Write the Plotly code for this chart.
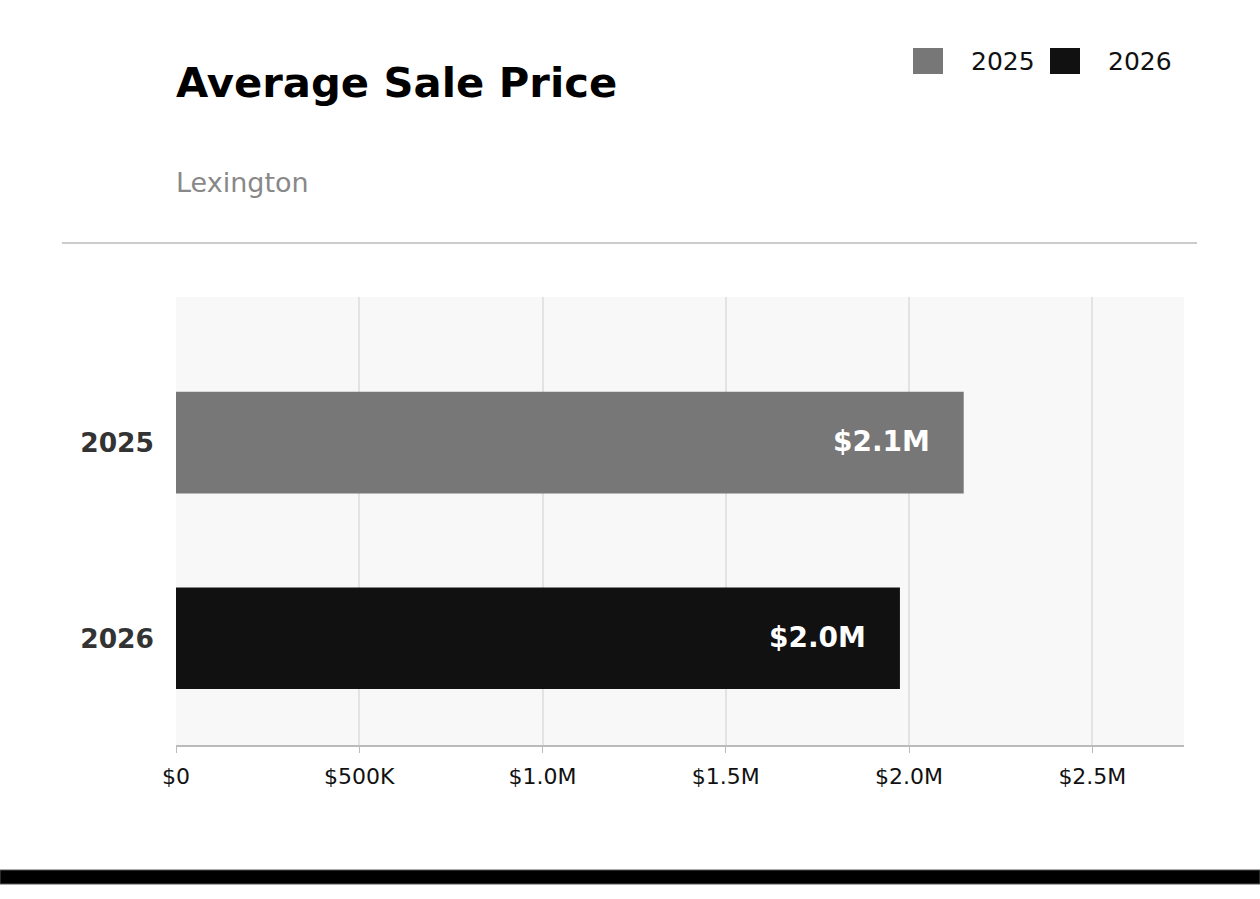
import plotly.graph_objects as go

categories = ["2025", "2026"]
values = [2149000, 1975000]
bar_colors = ["#777777", "#111111"]
tick_vals = [0, 500000, 1000000, 1500000, 2000000, 2500000]
tick_text = ["$0", "$500K", "$1.0M", "$1.5M", "$2.0M", "$2.5M"]
title = "Average Sale Price"
subtitle = "Lexington"

W, H = 1260, 899
L, R, T, B = 176, 76, 297, 154
PW, PH = W - L - R, H - T - B


def px(x):
    return (x - L) / PW


def py(y):
    return (H - B - y) / PH


FONT = "DejaVu Sans"

fig = go.Figure()
fig.add_trace(go.Bar(
    x=values, y=categories, orientation="h",
    marker=dict(color=bar_colors, line=dict(width=0)),
    width=0.52, showlegend=False, hoverinfo="skip",
))

annotations = []
for i, (c, v) in enumerate(zip(categories, values)):
    annotations.append(dict(
        x=v, y=i, xref="x", yref="y", text=f"<b>${v/1e6:.1f}M</b>",
        showarrow=False, xanchor="right", yanchor="middle", xshift=-32,
        yshift=1,
        font=dict(family=FONT, size=28, color="white"),
    ))

annotations.append(dict(
    x=0, y=py(82), xref="paper", yref="paper", text=f"<b>{title}</b>",
    showarrow=False, xanchor="left", yanchor="middle", xshift=-2,
    font=dict(family=FONT, size=41.7, color="black"),
))
annotations.append(dict(
    x=0, y=py(183), xref="paper", yref="paper", text=subtitle,
    showarrow=False, xanchor="left", yanchor="middle", xshift=-2,
    font=dict(family=FONT, size=27, color="#888888"),
))

shapes = []
legend_x = [913, 1050]
for c, col, lx in zip(categories, bar_colors, legend_x):
    shapes.append(dict(type="rect", xref="paper", yref="paper",
                       x0=px(lx), x1=px(lx + 30), y0=py(74), y1=py(48),
                       fillcolor=col, line=dict(width=0)))
    annotations.append(dict(
        x=px(lx + 56), y=py(61), xref="paper", yref="paper", text=c,
        showarrow=False, xanchor="left", yanchor="middle",
        font=dict(family=FONT, size=25, color="#111111"),
    ))

shapes.append(dict(type="line", xref="paper", yref="paper",
                   x0=px(62), x1=px(1197), y0=py(243), y1=py(243),
                   line=dict(color="#cccccc", width=2)))
shapes.append(dict(type="rect", xref="paper", yref="paper",
                   x0=px(0), x1=px(1260), y0=py(884), y1=py(870),
                   fillcolor="black", line=dict(color="#555555", width=1)))

fig.update_layout(
    width=W, height=H,
    margin=dict(l=L, r=R, t=T, b=B, pad=0),
    paper_bgcolor="white", plot_bgcolor="#f8f8f8",
    font=dict(family=FONT),
    showlegend=False,
    annotations=annotations, shapes=shapes,
    xaxis=dict(
        range=[0, 2750000], tickvals=tick_vals, ticktext=tick_text,
        showgrid=True, gridcolor="#e3e3e3", gridwidth=2,
        zeroline=False, showline=True, linecolor="#bbbbbb", linewidth=2,
        ticks="outside", ticklen=6, tickcolor="#bbbbbb", tickwidth=1,
        ticklabelstandoff=5,
        tickfont=dict(family=FONT, size=22, color="#111111"),
        fixedrange=True,
    ),
    yaxis=dict(
        type="category", categoryorder="array", categoryarray=categories,
        range=[1.546, -0.745], showgrid=False, zeroline=False, showline=False,
        ticks="", ticklabelstandoff=21,
        tickfont=dict(family=FONT, size=26.5, color="#333333", weight="bold"),
        fixedrange=True,
    ),
)

fig.write_html("out.html")
